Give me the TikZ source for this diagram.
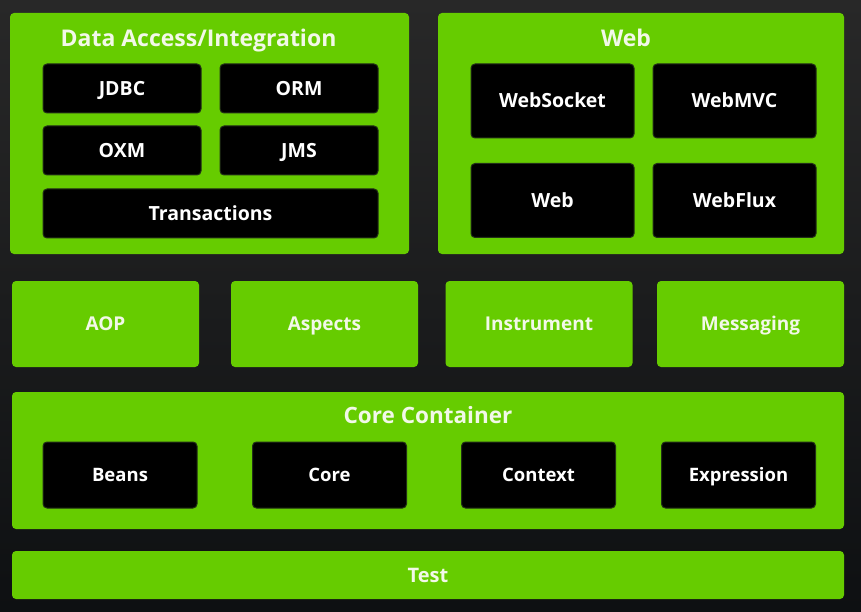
\documentclass[tikz,border=0pt]{standalone}
\usepackage{fontspec}
\setmainfont{Open Sans}
\definecolor{bgtop}{HTML}{282828}
\definecolor{bgbot}{HTML}{0E1012}
\definecolor{sgreen}{HTML}{66CC00}
\definecolor{titletxt}{HTML}{F2F8E8}
\definecolor{boxedge}{HTML}{223018}
\tikzset{
  capc/.style={text height=#1, text depth=0pt},
  gbox/.style={fill=sgreen, rounded corners=4pt, inner sep=0pt, draw=none},
  kbox/.style={fill=black, draw=boxedge, line width=1pt, rounded corners=4pt, inner sep=0pt,
    text=white, font=\bfseries\fontsize{19.5}{22}\selectfont, capc=13.9pt},
  kboxb/.style={kbox, font=\bfseries\fontsize{18.5}{21}\selectfont, capc=13.2pt},
  ttl/.style={text=titletxt, font=\bfseries\fontsize{23}{26}\selectfont, inner sep=0pt, capc=16.4pt},
  gtxt/.style={text=titletxt, font=\bfseries\fontsize{19}{22}\selectfont, capc=13.6pt},
}
\begin{document}
\begin{tikzpicture}[x=1pt,y=-1pt]
\useasboundingbox (0,0) rectangle (861,612);
\shade[top color=bgtop, bottom color=bgbot] (0,0) rectangle (861,612);
% Data Access / Integration
\node[gbox, minimum width=399pt, minimum height=241pt] (da) at (209.5,133.5) {};
\node[ttl] (datitle) at (198.5,38) {Data Access/Integration};
\node[kbox, minimum width=158pt, minimum height=49pt] (jdbc) at (122,88.5) {JDBC};
\node[kbox, minimum width=158pt, minimum height=49pt] (orm) at (299,88.5) {ORM};
\node[kbox, minimum width=158pt, minimum height=49pt] (oxm) at (122,150.5) {OXM};
\node[kbox, minimum width=158pt, minimum height=49pt] (jms) at (299,150.5) {JMS};
\node[kbox, minimum width=335pt, minimum height=49pt] (tx) at (210.5,213.5) {Transactions};
% Web
\node[gbox, minimum width=406pt, minimum height=241pt] (web) at (641,133.5) {};
\node[ttl] (webtitle) at (626,38) {Web};
\node[kbox, minimum width=163pt, minimum height=74pt] (websocket) at (552.5,101) {WebSocket};
\node[kbox, minimum width=163pt, minimum height=74pt] (webmvc) at (734.5,101) {WebMVC};
\node[kbox, minimum width=163pt, minimum height=74pt] (webw) at (552.5,200.5) {Web};
\node[kbox, minimum width=163pt, minimum height=74pt] (webflux) at (734.5,200.5) {WebFlux};
% middle row
\node[gbox, gtxt, minimum width=187pt, minimum height=86pt] (aop) at (105.5,324) {AOP};
\node[gbox, gtxt, minimum width=187pt, minimum height=86pt] (aspects) at (324.5,324) {Aspects};
\node[gbox, gtxt, minimum width=187pt, minimum height=86pt] (instrument) at (539,324) {Instrument};
\node[gbox, gtxt, minimum width=187pt, minimum height=86pt] (messaging) at (750.5,324) {Messaging};
% Core Container
\node[gbox, minimum width=832pt, minimum height=137pt] (cc) at (428,460.5) {};
\node[ttl, font=\bfseries\fontsize{22.5}{25}\selectfont, capc=16.1pt] (cctitle) at (428,415) {Core Container};
\node[kboxb, minimum width=154pt, minimum height=66pt] (beans) at (120,475) {Beans};
\node[kboxb, minimum width=154pt, minimum height=66pt] (core) at (329.5,475) {Core};
\node[kboxb, minimum width=154pt, minimum height=66pt] (context) at (538.5,475) {Context};
\node[kboxb, minimum width=154pt, minimum height=66pt] (expression) at (738.5,475) {Expression};
% Test
\node[gbox, gtxt, font=\bfseries\fontsize{20}{23}\selectfont, capc=14.3pt, minimum width=832pt, minimum height=48pt] (test) at (428,575) {Test};
\end{tikzpicture}
\end{document}
